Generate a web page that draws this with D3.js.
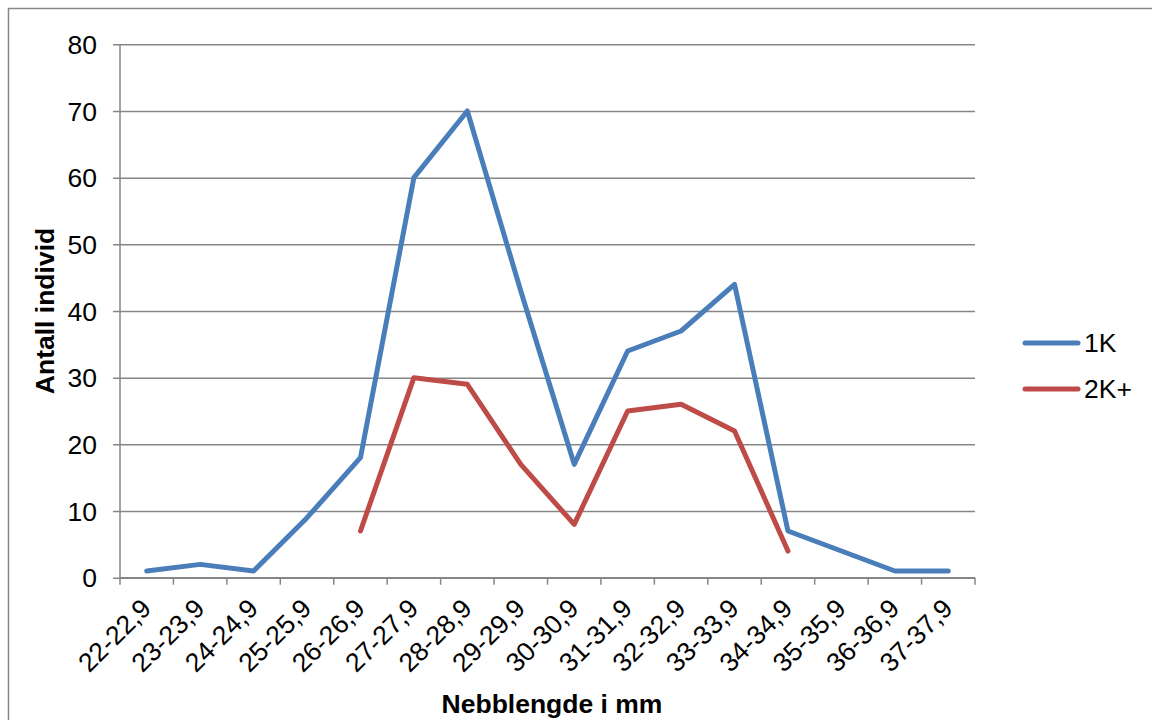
<!DOCTYPE html>
<html>
<head>
<meta charset="utf-8">
<script src="https://cdn.jsdelivr.net/npm/d3@7"></script>
<style>
  html, body { margin: 0; padding: 0; background: #fff; }
  svg { display: block; font-family: "Liberation Sans", Arial, sans-serif; }
</style>
</head>
<body>
<svg id="chart" width="1152" height="720"></svg>
<script>
// Beak-length classes (mm)
const categories = ["22-22,9","23-23,9","24-24,9","25-25,9","26-26,9","27-27,9","28-28,9","29-29,9",
                    "30-30,9","31-31,9","32-32,9","33-33,9","34-34,9","35-35,9","36-36,9","37-37,9"];
// Number of individuals per class; null where a class has no value
const values1K  = [1, 2, 1, 9, 18, 60, 70, 43, 17, 34, 37, 44, 7, 4, 1, 1];
const values2K  = [null, null, null, null, 7, 30, 29, 17, 8, 25, 26, 22, 4, null, null, null];
const seriesNames = ["1K", "2K+"];
const yTicks = [0, 10, 20, 30, 40, 50, 60, 70, 80];

const colors = ["#4A7EBB", "#BE4B48"];
const gridColor = "#868686";
const fontSize = 26.5;

const svg = d3.select("#chart");
const plot = { left: 120, right: 975, top: 44.3, bottom: 577.7 };

// Outer chart frame
svg.append("rect")
  .attr("x", 8.5).attr("y", 8.5)
  .attr("width", 1160).attr("height", 730)
  .attr("fill", "none").attr("stroke", gridColor).attr("stroke-width", 1.5);

const x = d3.scaleBand().domain(categories).range([plot.left, plot.right]).padding(0);
const y = d3.scaleLinear().domain([0, 80]).range([plot.bottom, plot.top]);

// Horizontal gridlines with left tick stubs
const yAxis = d3.axisLeft(y).tickValues(yTicks).tickSize(-(plot.right - plot.left + 7)).tickFormat(d3.format("d"));
const gy = svg.append("g").attr("transform", `translate(${plot.left - 7},0)`).call(yAxis);
gy.select(".domain").remove();
gy.selectAll(".tick line").attr("stroke", gridColor).attr("stroke-width", 1.5);
gy.selectAll(".tick text").attr("font-size", fontSize).attr("fill", "#000")
  .attr("x", -16).attr("dy", "0.35em");

// Vertical axis line
svg.append("line")
  .attr("x1", plot.left).attr("x2", plot.left)
  .attr("y1", y(80)).attr("y2", y(0))
  .attr("stroke", gridColor).attr("stroke-width", 1.5);

// Category axis: boundary ticks
const boundaries = categories.map(c => x(c)).concat([x(categories[categories.length - 1]) + x.bandwidth()]);
svg.append("line")
  .attr("x1", plot.left).attr("x2", plot.right)
  .attr("y1", y(0)).attr("y2", y(0))
  .attr("stroke", gridColor).attr("stroke-width", 1.5);
svg.append("g").selectAll("line").data(boundaries).join("line")
  .attr("x1", d => d).attr("x2", d => d)
  .attr("y1", y(0)).attr("y2", y(0) + 7)
  .attr("stroke", gridColor).attr("stroke-width", 1.5);

// Rotated category labels
svg.append("g").selectAll("text").data(categories).join("text")
  .attr("transform", d => `translate(${x(d) + x.bandwidth() / 2 + 6},${610}) rotate(-45)`)
  .attr("text-anchor", "end")
  .attr("font-size", fontSize)
  .attr("fill", "#000")
  .text(d => d);

// Series lines
const line = d3.line()
  .defined(d => d.v !== null)
  .x(d => x(d.c) + x.bandwidth() / 2)
  .y(d => y(d.v));

[values1K, values2K].forEach((vals, i) => {
  const data = categories.map((c, k) => ({ c, v: vals[k] }));
  svg.append("path")
    .datum(data)
    .attr("d", line)
    .attr("fill", "none")
    .attr("stroke", colors[i])
    .attr("stroke-width", 5)
    .attr("stroke-linejoin", "round")
    .attr("stroke-linecap", "round");
});

// Axis titles
svg.append("text")
  .attr("transform", `translate(54,${(plot.top + plot.bottom) / 2}) rotate(-90)`)
  .attr("text-anchor", "middle")
  .attr("font-size", fontSize).attr("font-weight", "bold")
  .text("Antall individ");

svg.append("text")
  .attr("x", 552).attr("y", 713)
  .attr("text-anchor", "middle")
  .attr("font-size", fontSize).attr("font-weight", "bold")
  .text("Nebblengde i mm");

// Legend
const legendY = [343, 389];
const legend = svg.append("g");
seriesNames.forEach((name, i) => {
  legend.append("line")
    .attr("x1", 1025).attr("x2", 1078)
    .attr("y1", legendY[i]).attr("y2", legendY[i])
    .attr("stroke", colors[i]).attr("stroke-width", 5)
    .attr("stroke-linecap", "round");
  legend.append("text")
    .attr("x", 1084).attr("y", legendY[i]).attr("dy", "0.35em")
    .attr("font-size", fontSize)
    .text(name);
});
</script>
</body>
</html>
